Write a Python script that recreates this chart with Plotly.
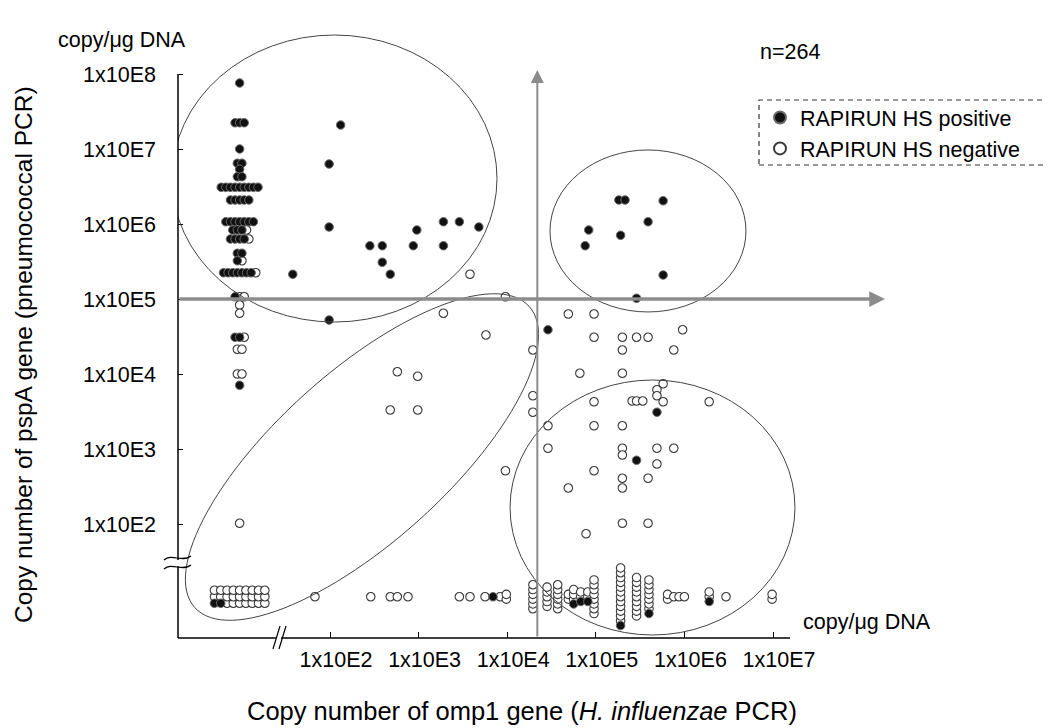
import numpy as np
import plotly.graph_objects as go

# ---------------- data: log10(copy number / µg DNA) ----------------
x_tick_vals = [2, 3, 4, 5, 6, 7]
x_tick_text = ["1x10E2", "1x10E3", "1x10E4", "1x10E5", "1x10E6", "1x10E7"]
y_tick_vals = [2, 3, 4, 5, 6, 7, 8]
y_tick_text = ["1x10E2", "1x10E3", "1x10E4", "1x10E5", "1x10E6", "1x10E7", "1x10E8"]

# both genes detected
pos_x = [2.12, 1.99, 1.99, 1.58, 2.45, 2.59, 2.59, 2.68, 2.98, 2.94, 3.28, 3.46, 3.28, 3.68, 1.99,
         5.26, 5.33, 5.76, 5.59, 4.92, 5.28, 4.88, 5.76, 5.46, 4.46, 5.69, 5.46]
pos_y = [7.32, 6.80, 5.96, 5.33, 5.71, 5.71, 5.49, 5.33, 5.92, 5.71, 6.03, 6.03, 5.71, 5.96, 4.72,
         6.32, 6.32, 6.31, 6.03, 5.92, 5.85, 5.71, 5.32, 5.01, 4.59, 3.49, 2.85]
neg_x = [3.58, 3.98, 3.28, 3.76, 4.69, 4.98, 4.98, 5.30, 5.46, 5.59, 5.98, 4.29, 5.30, 5.88,
         4.82, 5.30, 5.76, 5.69, 5.69, 4.29, 4.98, 5.41, 5.46, 5.53, 5.76, 6.28, 4.29, 4.46,
         4.98, 5.30, 4.46, 5.30, 5.69, 5.88, 5.30, 5.69, 3.98, 4.98, 5.59, 5.30, 4.69, 5.30,
         5.30, 5.59, 4.89, 2.76, 2.99, 2.68, 2.99]
neg_y = [5.33, 5.03, 4.81, 4.52, 4.80, 4.80, 4.49, 4.49, 4.49, 4.49, 4.59, 4.32, 4.32, 4.32,
         4.01, 4.01, 3.87, 3.79, 3.71, 3.71, 3.63, 3.64, 3.64, 3.64, 3.63, 3.63, 3.49, 3.31,
         3.31, 3.31, 3.01, 3.01, 3.01, 3.01, 2.92, 2.80, 2.71, 2.71, 2.61, 2.61, 2.48, 2.48,
         2.01, 2.01, 1.87, 4.03, 3.97, 3.52, 3.52]

# omp1 not detected: pspA value and counts (positive / negative)
nd_omp1_y = [7.88, 7.35, 7.00, 6.81, 6.73, 6.63, 6.49, 6.32, 6.03, 5.92, 5.80, 5.61, 5.51,
             5.35, 5.03, 4.92, 4.81, 4.49, 4.33, 4.00, 3.85, 2.01]
nd_omp1_pos = [1, 3, 1, 2, 1, 2, 9, 5, 7, 3, 4, 2, 1, 7, 1, 0, 0, 2, 0, 0, 1, 0]
nd_omp1_neg = [0, 0, 0, 0, 0, 0, 0, 0, 0, 1, 1, 0, 1, 1, 2, 1, 1, 1, 2, 2, 0, 1]

# pspA not detected: omp1 value and counts (positive / negative)
nd_pspa_x = [1.83, 2.46, 2.68, 2.76, 2.88, 3.46, 3.58, 3.75, 3.84, 3.92, 3.99, 4.29, 4.45,
             4.57, 4.69, 4.75, 4.83, 4.91, 4.98, 5.28, 5.46, 5.60, 5.81, 5.88, 5.94, 6.00,
             6.28, 6.47, 6.99]
nd_pspa_pos = [0, 0, 0, 0, 0, 0, 0, 0, 1, 0, 0, 0, 0, 0, 0, 1, 1, 1, 0, 1, 0, 1, 0, 0, 0, 0, 1, 0, 0]
nd_pspa_neg = [1, 1, 1, 1, 1, 1, 1, 1, 0, 1, 2, 6, 5, 6, 2, 3, 2, 2, 8, 12, 9, 7, 2, 1, 1, 1, 2, 1, 2]

# both not detected
nd_both_pos = 2
nd_both_neg = 25

ND_OMP1_X = 0.98   # display position for "not detected" omp1
ND_PSPA_Y = 1.03   # display position for "not detected" pspA
CUT_X = 4.34       # vertical divider
CUT_Y = 5.0        # horizontal divider

# ---------------- geometry (reference-pixel based) ----------------
OFF = 8                         # page body margin
FW, FH = 1054 - OFF, 728 - OFF  # figure size
L, R, T, B = 178, 1050, 20, 638  # plot area in screen pixels
XPX, YPX = 88.6, 75.0           # px per decade
X2PX, Y2PX = 330.0, 524.0       # pixel of the 1x10E2 ticks
xr = [2 + (L - X2PX) / XPX, 2 + (R - X2PX) / XPX]
yr = [2 - (B - Y2PX) / YPX, 2 + (Y2PX - T) / YPX]


def pxx(px):
    return (px - L) / (R - L)


def pxy(py):
    return (B - py) / (B - T)


# ---------------- expand the dot-plot stacks ----------------
HSTEP = 4.6 / XPX
VSTEP = 4.8 / YPX
px_list, py_list, nx_list, ny_list = list(pos_x), list(pos_y), list(neg_x), list(neg_y)

for yv, p, n in zip(nd_omp1_y, nd_omp1_pos, nd_omp1_neg):
    tot = p + n
    for i in range(tot):
        xv = ND_OMP1_X + (i - (tot - 1) / 2) * HSTEP
        if i < p:
            px_list.append(xv); py_list.append(yv)
        else:
            nx_list.append(xv); ny_list.append(yv)

for xv, p, n in zip(nd_pspa_x, nd_pspa_pos, nd_pspa_neg):
    tot = p + n
    for i in range(tot):
        yv = ND_PSPA_Y + (i - (tot - 1) / 2) * VSTEP
        if i < p:
            px_list.append(xv); py_list.append(yv)
        else:
            nx_list.append(xv); ny_list.append(yv)

COLS = 9
tot = nd_both_pos + nd_both_neg
rows = int(np.ceil(tot / COLS))
for i in range(tot):
    r, c = divmod(i, COLS)
    xv = ND_OMP1_X + (c - (COLS - 1) / 2) * (6.3 / XPX)
    yv = ND_PSPA_Y + (r - (rows - 1) / 2) * (6.5 / YPX)
    if i < nd_both_pos:
        px_list.append(xv); py_list.append(yv)
    else:
        nx_list.append(xv); ny_list.append(yv)

FONT = "Arial, 'Liberation Sans', sans-serif"

fig = go.Figure()
fig.add_trace(go.Scatter(
    x=nx_list, y=ny_list, mode="markers", name="RAPIRUN HS negative", legendrank=2,
    marker=dict(size=8.5, color="white", line=dict(color="#3a3a3a", width=1.1)),
    cliponaxis=False))
fig.add_trace(go.Scatter(
    x=px_list, y=py_list, mode="markers", name="RAPIRUN HS positive", legendrank=1,
    marker=dict(size=8.5, color="#111111", line=dict(color="#6a6a6a", width=1)),
    cliponaxis=False))

shapes = []
# ellipses (data coordinates)
for x0, x1, y0, y1 in [(0.217, 3.885, 4.693, 8.52), (4.483, 6.695, 4.827, 6.987),
                       (4.032, 7.248, 0.52, 3.92)]:
    shapes.append(dict(type="circle", xref="x", yref="y", x0=x0, x1=x1, y0=y0, y1=y1,
                       line=dict(color="#444444", width=1), layer="above"))
# tilted ellipse
cx, cy = 2.361, 2.893
a, b, ang = 225.0, 85.0, np.deg2rad(42)
t = np.linspace(0, 2 * np.pi, 121)
ex = cx + (a * np.cos(t) * np.cos(ang) - b * np.sin(t) * np.sin(ang)) / XPX
ey = cy + (a * np.cos(t) * np.sin(ang) + b * np.sin(t) * np.cos(ang)) / YPX
path = "M " + " L ".join(f"{u:.4f},{v:.4f}" for u, v in zip(ex, ey)) + " Z"
shapes.append(dict(type="path", xref="x", yref="y", path=path,
                   line=dict(color="#444444", width=1), layer="above"))

# axis lines
shapes.append(dict(type="line", xref="paper", yref="y", x0=0, x1=0, y0=yr[0], y1=8.0,
                   line=dict(color="black", width=1.5), layer="above"))
shapes.append(dict(type="line", xref="x", yref="paper", x0=xr[0], x1=2 + (790 - X2PX) / XPX,
                   y0=0, y1=0, line=dict(color="black", width=1.5), layer="above"))

# axis breaks
shapes.append(dict(type="rect", xref="paper", yref="paper", x0=pxx(171), x1=pxx(186),
                   y0=pxy(566), y1=pxy(560), fillcolor="white", line=dict(width=0), layer="above"))
for base in (558, 567):
    pts = [(164, base + 2), (172, base - 5), (182, base + 5), (191, base - 2)]
    d = "M {},{} C {},{} {},{} {},{}".format(
        pxx(pts[0][0]), pxy(pts[0][1]), pxx(pts[1][0]), pxy(pts[1][1]),
        pxx(pts[2][0]), pxy(pts[2][1]), pxx(pts[3][0]), pxy(pts[3][1]))
    shapes.append(dict(type="path", xref="paper", yref="paper", path=d,
                       line=dict(color="black", width=1.2), layer="above"))
shapes.append(dict(type="path", xref="paper", yref="paper",
                   path="M {},{} L {},{} L {},{} L {},{} Z".format(
                       pxx(275), pxy(641), pxx(277), pxy(635), pxx(282), pxy(635), pxx(280), pxy(641)),
                   fillcolor="white", line=dict(width=0), layer="above"))
for off in (0, 6):
    shapes.append(dict(type="line", xref="paper", yref="paper",
                       x0=pxx(273 + off), y0=pxy(649), x1=pxx(280 + off), y1=pxy(626),
                       line=dict(color="black", width=1.2), layer="above"))

# legend box
shapes.append(dict(type="rect", xref="paper", yref="paper", x0=pxx(759), x1=pxx(1048),
                   y0=pxy(165), y1=pxy(100), line=dict(color="#333333", width=1.2, dash="5px,4px"),
                   layer="above"))

annotations = []
# cut-off arrows
annotations.append(dict(x=2 + (885 - X2PX) / XPX, y=CUT_Y, ax=xr[0], ay=CUT_Y, xref="x", yref="y",
                        axref="x", ayref="y", text="", showarrow=True, arrowhead=2,
                        arrowsize=0.9, arrowwidth=3.5, arrowcolor="#8c8c8c", standoff=0))
annotations.append(dict(x=CUT_X, y=2 + (Y2PX - 70) / YPX, ax=CUT_X, ay=yr[0], xref="x", yref="y",
                        axref="x", ayref="y", text="", showarrow=True, arrowhead=2,
                        arrowsize=1.3, arrowwidth=2, arrowcolor="#8c8c8c", standoff=0))
# texts
txt_font = dict(family=FONT, size=21.5, color="black")
annotations += [
    dict(text="copy/μg DNA", x=pxx(122), y=pxy(40), xref="paper", yref="paper",
         showarrow=False, font=txt_font, xanchor="center", yanchor="middle"),
    dict(text="n=264", x=pxx(758), y=pxy(52), xref="paper", yref="paper",
         showarrow=False, font=txt_font, xanchor="left", yanchor="middle"),
    dict(text="copy/μg DNA", x=pxx(867), y=pxy(622), xref="paper", yref="paper",
         showarrow=False, font=txt_font, xanchor="center", yanchor="middle"),
    dict(text="Copy number of pspA gene (pneumococcal PCR)", x=pxx(23), y=pxy(355),
         xref="paper", yref="paper", showarrow=False, textangle=-90,
         font=dict(family=FONT, size=24.5, color="black"), xanchor="center", yanchor="middle"),
    dict(text="Copy number of omp1 gene (<i>H. influenzae</i> PCR)", x=pxx(522), y=pxy(711),
         xref="paper", yref="paper", showarrow=False,
         font=dict(family=FONT, size=25.5, color="black"), xanchor="center", yanchor="middle"),
]

fig.update_layout(
    width=FW, height=FH, autosize=False,
    margin=dict(l=L - OFF, r=FW - (R - OFF), t=T - OFF, b=FH - (B - OFF), pad=0),
    paper_bgcolor="white", plot_bgcolor="white",
    font=dict(family=FONT, size=21.5, color="black"),
    shapes=shapes, annotations=annotations,
    showlegend=True,
    legend=dict(x=pxx(760), y=pxy(97), xanchor="left", yanchor="top",
                bgcolor="rgba(0,0,0,0)", borderwidth=0, font=dict(family=FONT, size=21.5),
                itemsizing="constant", tracegroupgap=0),
    xaxis=dict(range=xr, tickvals=x_tick_vals, ticktext=x_tick_text, ticks="inside",
               ticklen=6, tickwidth=1, tickcolor="black", showgrid=False, zeroline=False,
               showline=False, ticklabelshift=6, ticklabelstandoff=6,
               tickfont=dict(family=FONT, size=21.5)),
    yaxis=dict(range=yr, tickvals=y_tick_vals, ticktext=y_tick_text, ticks="inside",
               ticklen=5, tickwidth=1, tickcolor="black", showgrid=False, zeroline=False,
               showline=False, ticklabelstandoff=21, tickfont=dict(family=FONT, size=21.5)),
)

fig.write_html("out.html")
